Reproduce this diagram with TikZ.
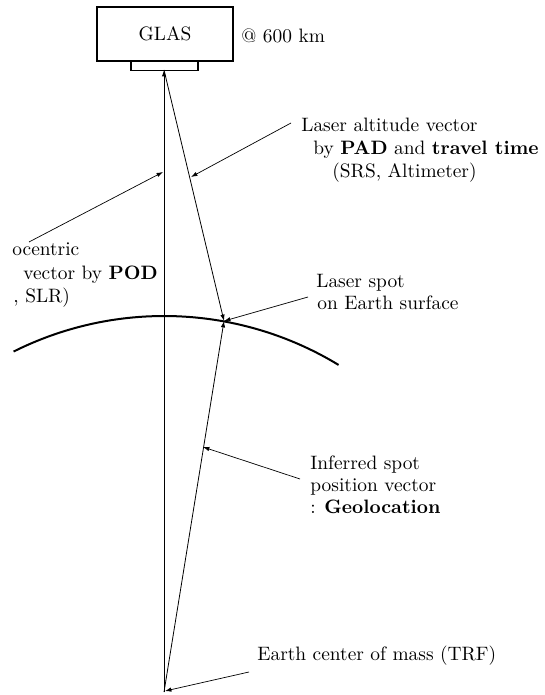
\documentclass[tikz,border=0pt]{standalone}
\usetikzlibrary{arrows.meta}
\begin{document}
\begin{tikzpicture}[x=0.5pt,y=-0.5pt,
  every node/.style={font=\fontsize{9.7}{11.6}\selectfont, inner sep=0pt},
  lbl/.style={anchor=base west},
  vec/.style={line width=0.4pt},
  axis/.style={line width=0.5pt},
  lead/.style={line width=0.35pt},
  tip/.style={-{Latex[length=3.2pt,width=2.2pt]}},
  earth/.style={line width=1.0pt}]
\useasboundingbox (0,0) rectangle (545,695);
% satellite
\node[draw, line width=0.7pt, minimum width=68pt, minimum height=27pt] (glas) at (165,34) {GLAS};
\node[draw, line width=0.7pt, minimum width=33.5pt, minimum height=4.5pt, anchor=north] (foot) at (164.5,61) {};
\node[lbl] (alt) at (241,43) {@ 600 km};
% key points
\coordinate (top) at (164,70);
\coordinate (cm) at (164,692);
\coordinate (spot) at (224,321);
% Earth surface
\draw[earth] plot[domain=58.7:116.6, samples=80] ({164+336*cos(\x)}, {652-336*sin(\x)});
% vectors
\draw[axis, tip] (cm) -- (top);
\draw[vec, tip] (top) -- (spot);
\draw[vec, tip] (cm) -- (spot);
% labels
\node[lbl] (la1) at (301,132) {Laser altitude vector};
\node[lbl] (la2) at (313,155) {by \textbf{PAD} and \textbf{travel time}};
\node[lbl] (la3) at (332,178) {(SRS, Altimeter)};
\node[lbl] (g1) at (12,256) {ocentric};
\node[lbl] (g2) at (23,279) {vector by \textbf{POD}};
\node[lbl] (g3) at (13,302) {, SLR)};
\node[lbl] (ls1) at (316,287) {Laser spot};
\node[lbl] (ls2) at (317,309) {on Earth surface};
\node[lbl] (in1) at (310,469) {Inferred spot};
\node[lbl] (in2) at (310,491) {position vector};
\node[lbl] (in3) at (310,513) {: \textbf{Geolocation}};
\node[lbl] (ec) at (257,660) {Earth center of mass (TRF)};
% leader lines
\coordinate (laS) at (291,123);
\coordinate (laE) at (191,177);
\coordinate (gS) at (29,242);
\coordinate (gE) at (163,172);
\coordinate (lsS) at (308,297);
\coordinate (inS) at (300,479);
\coordinate (inE) at (203,447);
\coordinate (ecS) at (249,672);
\coordinate (ecE) at (165,691);
\draw[lead, tip] (laS) -- (laE);
\draw[lead, tip] (gS) -- (gE);
\draw[lead, tip] (lsS) -- (spot);
\draw[lead, tip] (inS) -- (inE);
\draw[lead, tip] (ecS) -- (ecE);
\end{tikzpicture}
\end{document}
